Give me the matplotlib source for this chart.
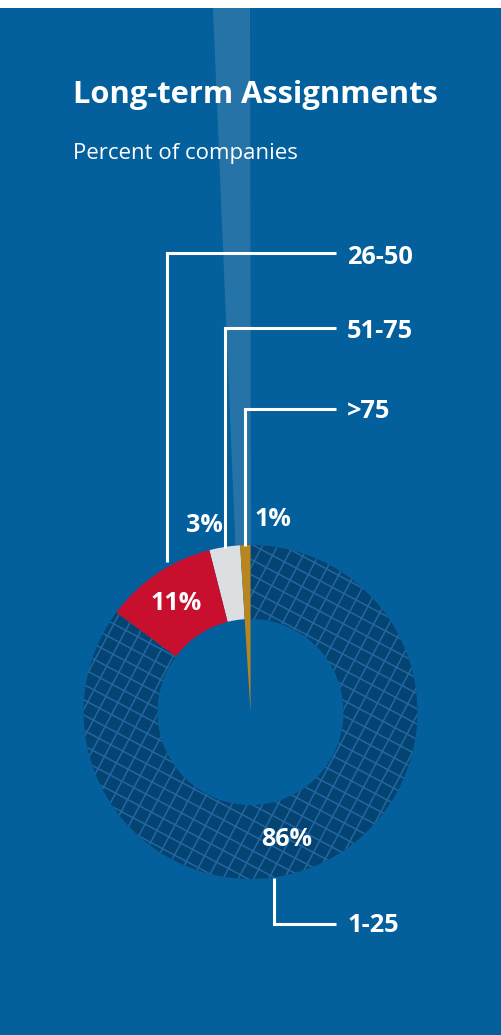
import numpy as np
import matplotlib
matplotlib.use("Agg")
import matplotlib.pyplot as plt
from matplotlib.patches import Polygon, Rectangle

# ---- data ----
categories = ["1-25", "26-50", "51-75", ">75"]
pct_labels = ["86%", "11%", "3%", "1%"]
values = [86, 11, 3, 1]

title = "Long-term Assignments"
subtitle = "Percent of companies"

# ---- styling ----
BG = "#03609C"
DARK = "#044473"
HATCH = "#2466A0"
RED = "#C8102E"
GRAY = "#DCDFE2"
GOLD = "#B8861F"
BEAM = "#2674A7"

W, H = 501, 1035
fig = plt.figure(figsize=(W / 100, H / 100), dpi=100)
fig.patch.set_facecolor("white")
ax = fig.add_axes([0, 0, 1, 1])
ax.set_xlim(0, W)
ax.set_ylim(0, H)
ax.set_aspect("equal")
ax.axis("off")

def Y(py):
    return H - py

# background (white strip on top)
ax.add_patch(Rectangle((0, 0), W, Y(8), facecolor=BG, edgecolor="none", zorder=0))

# light beam
ax.add_patch(Polygon([(213, Y(8)), (250, Y(8)), (251, Y(560)), (236, Y(560))],
                     closed=True, facecolor=BEAM, edgecolor="none", zorder=1))

cx, cy = 250.5, Y(712)
R_out, R_in = 167, 93

# pie: order counter-clockwise from top: >75, 51-75, 26-50, 1-25
order = [3, 2, 1, 0]
pie_vals = [values[i] for i in order]
colors = {0: DARK, 1: RED, 2: GRAY, 3: GOLD}
wedges, _ = ax.pie(pie_vals, center=(cx, cy), radius=R_out, startangle=90,
                   counterclock=True, colors=[colors[i] for i in order],
                   wedgeprops=dict(width=R_out - R_in, linewidth=0),
                   frame=True)
ax.set_xlim(0, W)
ax.set_ylim(0, H)
ax.axis("off")
for w in wedges:
    w.set_zorder(3)
# gold slice is a full wedge to the center
wedges[0].set_width(R_out)
wedges[0].set_zorder(4)

# grid texture on the 86% slice
big = wedges[3]
spacing = 13.5
ang1 = np.deg2rad(62)
ang2 = np.deg2rad(-28)
L = 500
for ang in (ang1, ang2):
    d = np.array([np.cos(ang), np.sin(ang)])
    n = np.array([-d[1], d[0]])
    for k in np.arange(-30, 31):
        p0 = np.array([cx, cy]) + n * k * spacing
        a = p0 - d * L
        b = p0 + d * L
        ln, = ax.plot([a[0], b[0]], [a[1], b[1]], color=HATCH, lw=1.1, zorder=3.5,
                      solid_capstyle="butt")
        ln.set_clip_path(big)

FONT = "Open Sans"

# title
ax.text(73, Y(95), title, color="white", fontsize=22.2, fontweight="bold",
        family=FONT, ha="left", va="center", zorder=6)
ax.text(73, Y(153), subtitle, color="white", fontsize=16,
        family=FONT, ha="left", va="center", zorder=6)

# leader lines
lw = 2.2
lines = {
    "26-50": [(167, 562), (167, 253), (336, 253)],
    "51-75": [(225, 548), (225, 328), (336, 328)],
    ">75": [(245, 546), (245, 409), (336, 409)],
    "1-25": [(274, 878), (274, 924), (336, 924)],
}
label_y = {"26-50": 258, "51-75": 331, ">75": 412, "1-25": 925}
for cat in categories:
    pts = lines[cat]
    ax.plot([p[0] for p in pts], [Y(p[1]) for p in pts], color="white", lw=lw,
            zorder=5, solid_joinstyle="miter", solid_capstyle="butt")
    ax.text(347, Y(label_y[cat]), cat, color="white", fontsize=18.3, fontweight="bold",
            family=FONT, ha="left", va="center", zorder=6)

# percentage labels
pct_pos = {"86%": (287, 840), "11%": (176, 604), "3%": (204, 525), "1%": (273, 519)}
for lab in pct_labels:
    x, y = pct_pos[lab]
    ax.text(x, Y(y), lab, color="white", fontsize=18, fontweight="bold",
            family=FONT, ha="center", va="center", zorder=6)

fig.savefig("out.png", dpi=100, facecolor=fig.get_facecolor())
